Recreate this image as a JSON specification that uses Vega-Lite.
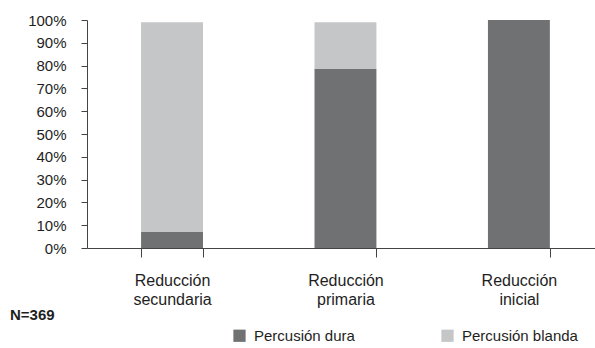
{
  "$schema": "https://vega.github.io/schema/vega-lite/v6.json",
  "autosize": {"type": "none"},
  "padding": {"left": 87, "top": 20, "right": 0, "bottom": 100},
  "width": 508,
  "height": 228,
  "background": "white",
  "config": {
    "view": {"stroke": null},
    "font": "Liberation Sans",
    "axis": {"domainColor": "#444444", "tickColor": "#444444", "labelColor": "#1e1e1e", "grid": false, "labelFont": "Liberation Sans"}
  },
  "title": {
    "text": "N=369",
    "orient": "bottom",
    "anchor": "start",
    "frame": "group",
    "dx": -77,
    "dy": -40,
    "fontSize": 15,
    "fontWeight": "bold",
    "color": "#1e1e1e",
    "font": "Liberation Sans"
  },
  "data": {
    "values": [
      {"cat": "Reducción secundaria", "serie": "Percusión dura", "v": 7},
      {"cat": "Reducción secundaria", "serie": "Percusión blanda", "v": 92},
      {"cat": "Reducción primaria", "serie": "Percusión dura", "v": 78.5},
      {"cat": "Reducción primaria", "serie": "Percusión blanda", "v": 20.5},
      {"cat": "Reducción inicial", "serie": "Percusión dura", "v": 100},
      {"cat": "Reducción inicial", "serie": "Percusión blanda", "v": 0}
    ]
  },
  "mark": {"type": "bar"},
  "encoding": {
    "x": {
      "field": "cat",
      "type": "nominal",
      "sort": null,
      "scale": {"paddingInner": 0.643, "paddingOuter": 0.286, "align": 0.545},
      "axis": {
        "title": null,
        "labelAngle": 0,
        "labelExpr": "split(datum.label, ' ')",
        "labelFontSize": 16,
        "labelLineHeight": 19,
        "labelPadding": 15,
        "tickBand": "extent",
        "tickSize": 9,
        "labelBaseline": "top"
      }
    },
    "y": {
      "field": "v",
      "type": "quantitative",
      "stack": "zero",
      "scale": {"domain": [0, 100], "nice": false},
      "axis": {
        "title": null,
        "values": [0, 10, 20, 30, 40, 50, 60, 70, 80, 90, 100],
        "labelExpr": "datum.value + '%'",
        "labelFontSize": 15,
        "labelPadding": 15,
        "tickSize": 6
      }
    },
    "color": {
      "field": "serie",
      "type": "nominal",
      "scale": {"domain": ["Percusión dura", "Percusión blanda"], "range": ["#707173", "#c5c6c8"]},
      "legend": {
        "title": null,
        "orient": "none",
        "legendX": 145,
        "legendY": 308,
        "direction": "horizontal",
        "symbolType": "square",
        "symbolSize": 150,
        "symbolStrokeWidth": 0,
        "labelFontSize": 15,
        "labelOffset": 7,
        "columnPadding": 85,
        "labelColor": "#1e1e1e",
        "labelFont": "Liberation Sans"
      }
    },
    "order": {"field": "serie", "sort": "descending"}
  }
}
